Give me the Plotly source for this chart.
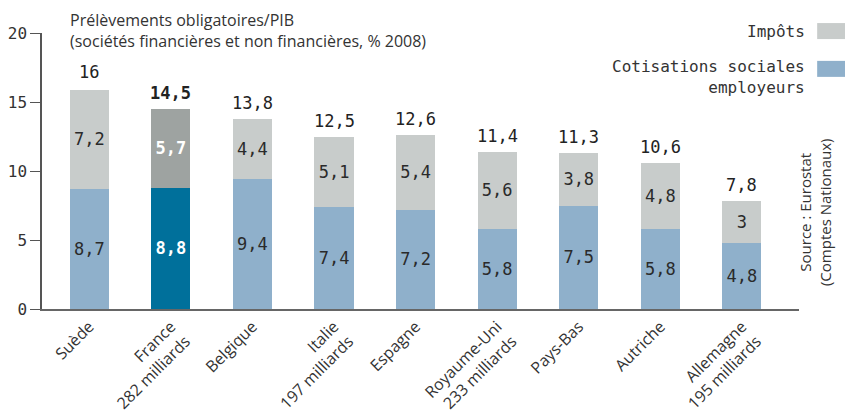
import plotly.graph_objects as go

# Données (% du PIB, 2008)
pays = ["Suède", "France<br>282 milliards", "Belgique", "Italie<br>197 milliards",
        "Espagne", "Royaume-Uni<br>233 milliards", "Pays-Bas", "Autriche",
        "Allemagne<br>195 milliards"]
cotisations = [8.7, 8.8, 9.4, 7.4, 7.2, 5.8, 7.5, 5.8, 4.8]
impots = [7.2, 5.7, 4.4, 5.1, 5.4, 5.6, 3.8, 4.8, 3.0]
totaux = [16, 14.5, 13.8, 12.5, 12.6, 11.4, 11.3, 10.6, 7.8]
y_ticks = [0, 5, 10, 15, 20]

MONO = "DejaVu Sans Mono"
SANS = "Open Sans"


def fr(v, bold=False):
    s = f"{v:.1f}".replace(".", ",")
    s = s[:-2] if s.endswith(",0") else s
    return f"<b>{s}</b>" if bold else s


is_fr = [p.startswith("France") for p in pays]
col_cot = ["#00709b" if f else "#8fb0cb" for f in is_fr]
col_imp = ["#9ea3a1" if f else "#c8cccb" for f in is_fr]
txt_col = ["#ffffff" if f else "#2a2a2a" for f in is_fr]

fig = go.Figure()
fig.add_trace(go.Bar(
    x=pays, y=cotisations, name="Cotisations sociales employeurs",
    marker=dict(color=col_cot, line=dict(width=0)),
    text=[fr(v, f) for v, f in zip(cotisations, is_fr)], textposition="inside",
    insidetextanchor="middle", constraintext="none",
    textfont=dict(family=MONO, size=17, color=txt_col),
    width=0.48,
))
fig.add_trace(go.Bar(
    x=pays, y=impots, name="Impôts",
    marker=dict(color=col_imp, line=dict(width=0)),
    text=[fr(v, f) for v, f in zip(impots, is_fr)], textposition="inside",
    insidetextanchor="middle", constraintext="none",
    textfont=dict(family=MONO, size=17, color=txt_col),
    width=0.48,
))

# totaux au-dessus des barres
for p, t, f in zip(pays, totaux, is_fr):
    fig.add_annotation(
        x=p, y=t, text=fr(t, f), showarrow=False,
        yanchor="bottom", yshift=4,
        font=dict(family=MONO, size=17, color="#222222"),
    )

# titre
fig.add_annotation(
    xref="paper", yref="paper", x=0.036, y=1.09, xanchor="left", yanchor="top",
    text="Prélèvements obligatoires/PIB<br>(sociétés financières et non financières, % 2008)",
    showarrow=False, align="left", borderpad=0,
    font=dict(family=SANS, size=16, color="#333333"),
)

# légende à droite
leg = [("Impôts", "#c8cccb", 1.007), ("Cotisations sociales<br>employeurs", "#8fb0cb", 0.87)]
for label, c, yy in leg:
    fig.add_annotation(
        xref="paper", yref="paper", x=1.01, y=yy - (0.03 if "<br>" in label else 0),
        xanchor="right", yanchor="middle",
        text=label, showarrow=False, align="right",
        font=dict(family=MONO, size=16, color="#333333"),
    )
    fig.add_shape(
        type="rect", xref="paper", yref="paper",
        x0=1.024, x1=1.065, y0=yy - 0.029, y1=yy + 0.029,
        fillcolor=c, line=dict(width=0),
    )

# source
fig.add_annotation(
    xref="paper", yref="paper", x=1.022, y=0.35, xanchor="center", yanchor="middle",
    text="Source : Eurostat<br>(Comptes Nationaux)", showarrow=False, textangle=-90,
    font=dict(family=SANS, size=15, color="#333333"),
)

# la page ajoute 8 px de marge autour du graphique
fig.update_layout(
    barmode="stack",
    width=845, height=408,
    margin=dict(l=34, r=54, t=25, b=107),
    paper_bgcolor="white", plot_bgcolor="white",
    showlegend=False,
    xaxis=dict(
        range=[-0.58, 8.7], showgrid=False, showline=True, linecolor="#666666",
        linewidth=2, ticks="", tickangle=-45, automargin=False,
        tickfont=dict(family=SANS, size=16, color="#333333"),
    ),
    yaxis=dict(
        range=[0, 20], tickvals=y_ticks, showgrid=False, zeroline=False,
        showline=True, linecolor="#555555", linewidth=1.5, automargin=False,
        ticks="outside", ticklen=10, tickcolor="#555555",
        tickfont=dict(family=MONO, size=16, color="#333333"),
    ),
)

fig.write_html("out.html")
